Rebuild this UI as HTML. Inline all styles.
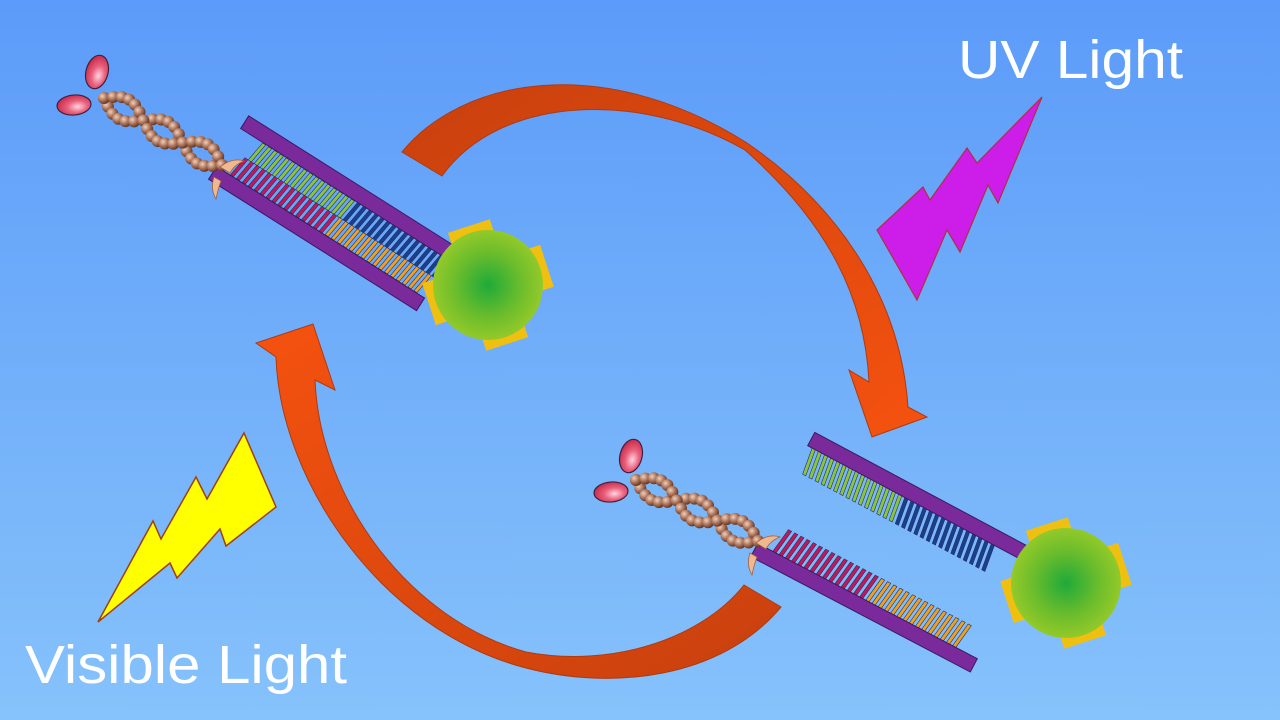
<!DOCTYPE html>
<html><head><meta charset="utf-8"><style>
html,body{margin:0;padding:0;width:1280px;height:720px;overflow:hidden}
svg{display:block}
</style></head><body>
<svg id="s" width="1280" height="720" viewBox="0 0 1280 720" xmlns="http://www.w3.org/2000/svg">
<defs>
<linearGradient id="bg" x1="0" y1="0" x2="0" y2="1">
<stop offset="0" stop-color="#5c9bf9"/><stop offset="1" stop-color="#86c2fb"/></linearGradient>
<linearGradient id="a1" x1="0" y1="0" x2="1" y2="1"><stop offset="0" stop-color="#c8400e"/><stop offset="1" stop-color="#f5520f"/></linearGradient>
<linearGradient id="a2" x1="1" y1="1" x2="0" y2="0"><stop offset="0" stop-color="#c8400e"/><stop offset="1" stop-color="#f5520f"/></linearGradient>
<radialGradient id="gr"><stop offset="0" stop-color="#1faa3a"/><stop offset="0.6" stop-color="#6cbd2c"/><stop offset="1" stop-color="#93c92a"/></radialGradient>
<radialGradient id="bead" cx="0.35" cy="0.35" r="0.7"><stop offset="0" stop-color="#f0d0bb"/><stop offset="0.55" stop-color="#a86f55"/><stop offset="1" stop-color="#5a3022"/></radialGradient>
<radialGradient id="ell" cx="0.6" cy="0.6" r="0.6"><stop offset="0" stop-color="#ffd5e0"/><stop offset="0.5" stop-color="#e9607c"/><stop offset="1" stop-color="#c8304f"/></radialGradient>
<g id="gear">
<g transform="rotate(-18)" fill="#f0c010">
<rect x="-22" y="-62" width="44" height="22"/><rect x="-22" y="40" width="44" height="22"/>
<rect x="-62" y="-22" width="22" height="44"/><rect x="40" y="-22" width="22" height="44"/>
</g>
<circle r="55" fill="url(#gr)"/>
</g>
</defs>
<rect width="1280" height="720" fill="url(#bg)"/>

<path d="M402,152 C460,80 600,50 747,143 C830,200 900,290 908,407 L927,417 L872,437 L849,370 L869,382 C865,300 830,225 745,150 C640,90 500,95 442,176 Z" fill="url(#a1)" stroke="#b03a10" stroke-width="1"/>
<path d="M313,324 L335,390 L315,380 C320,500 410,620 526,652 C610,668 700,640 744,585 L781,607 C720,680 610,690 526,668 C380,630 280,480 276,357 L256,343 Z" fill="url(#a2)" stroke="#b03a10" stroke-width="1"/>

<polygon points="1042,97 998,203 988,185 960,252 947,230 917,300 877,230 923,187 930,200 967,148 977,163" fill="#cc1ee8" stroke="#b03040" stroke-width="1.2"/>
<polygon points="244,433 276,507 226,546 220,529 177,578 170,563 98,622 153,521 161,539 196,477 207,499" fill="#ffff00" stroke="#a04010" stroke-width="1.5"/>

<g transform="translate(216,175) rotate(32.3)">
<rect x="-4" y="-67.5" width="246" height="15" fill="#7a2a9a" stroke="#3a1a60" stroke-width="1"/>
<rect x="-4" y="-7.5" width="246" height="15" fill="#7a2a9a" stroke="#3a1a60" stroke-width="1"/>
<g id="tt"></g>
</g>
<use href="#gear" transform="translate(488,285)"/>

<g transform="translate(813,440) rotate(28.1)">
<g id="bt1"></g>
<rect x="-2" y="-7.5" width="248" height="15" fill="#7a2a9a" stroke="#3a1a60" stroke-width="1"/>
</g>
<g transform="translate(756,551) rotate(27.7)">
<g id="bt2"></g>
<rect x="-2" y="-7.5" width="248" height="15" fill="#7a2a9a" stroke="#3a1a60" stroke-width="1"/>
</g>
<use href="#gear" transform="translate(1066,583)"/>

<g id="chains"></g>

<text x="958" y="78" font-family="Liberation Sans, sans-serif" font-size="54" fill="#fff" textLength="225" lengthAdjust="spacingAndGlyphs">UV Light</text>
<text x="25" y="683" font-family="Liberation Sans, sans-serif" font-size="54" fill="#fff" textLength="322" lengthAdjust="spacingAndGlyphs">Visible Light</text>
</svg>
<script>
var NS="http://www.w3.org/2000/svg";
function el(p,t,a){var e=document.createElementNS(NS,t);for(var k in a)e.setAttribute(k,a[k]);p.appendChild(e);return e;}
var tt=document.getElementById("tt");
for(var i=0;i<32;i++){var x=12+i*7;
 var up=i<16?"#8bc53f":"#1a3f8f", lo=i<16?"#c0185a":"#f0a020";
 el(tt,"rect",{x:x+3,y:-52,width:3.6,height:22,fill:up,stroke:"#203060","stroke-width":0.6,transform:"skewX(-8)"});
 el(tt,"rect",{x:x-1,y:-30,width:3.6,height:22,fill:lo,stroke:"#203060","stroke-width":0.6,transform:"skewX(-8)"});}
var b1=document.getElementById("bt1");
for(var i=0;i<30;i++){var x=2+i*7;
 el(b1,"rect",{x:x,y:7,width:3.6,height:28,fill:i<15?"#8bc53f":"#1a3f8f",stroke:"#203060","stroke-width":0.6,transform:"skewX(8)"});}
var b2=document.getElementById("bt2");
for(var i=0;i<30;i++){var x=14+i*7;
 el(b2,"rect",{x:x,y:-34,width:3.6,height:27,fill:i<15?"#c0185a":"#f0a020",stroke:"#203060","stroke-width":0.6,transform:"skewX(-8)"});}
var ch=document.getElementById("chains");
function chain(ax,ay,bx,by,amp,e1,e2){
 var dx=bx-ax,dy=by-ay,L=Math.hypot(dx,dy),nx=-dy/L,ny=dx/L,n=18;
 el(ch,"ellipse",{cx:e1[0],cy:e1[1],rx:11,ry:17,fill:"url(#ell)",stroke:"#402040","stroke-width":1.2,transform:"rotate(15 "+e1[0]+" "+e1[1]+")"});
 el(ch,"ellipse",{cx:e2[0],cy:e2[1],rx:17,ry:10,fill:"url(#ell)",stroke:"#402040","stroke-width":1.2,transform:"rotate(-5 "+e2[0]+" "+e2[1]+")"});
 for(var s=0;s<2;s++)for(var i=0;i<=n;i++){var t=i/n,o=amp*Math.sin(Math.PI*2*1.5*t+s*Math.PI);
  el(ch,"circle",{cx:ax+dx*t+nx*o,cy:ay+dy*t+ny*o,r:6,fill:"url(#bead)"});}
 el(ch,"path",{d:"M"+(bx-2)+","+(by+2)+" q12,-10 24,-6 q-10,4 -14,12 z",fill:"#f0b890",stroke:"#a06040","stroke-width":0.8});
 el(ch,"path",{d:"M"+(bx-8)+","+(by+12)+" q-4,12 2,22 q2,-10 5,-18 z",fill:"#f0b890",stroke:"#a06040","stroke-width":0.8});
}
chain(104,98,222,165,11,[97,72],[74,105]);
chain(636,480,758,541,11,[631,456],[611,492]);
</script>
</body></html>
